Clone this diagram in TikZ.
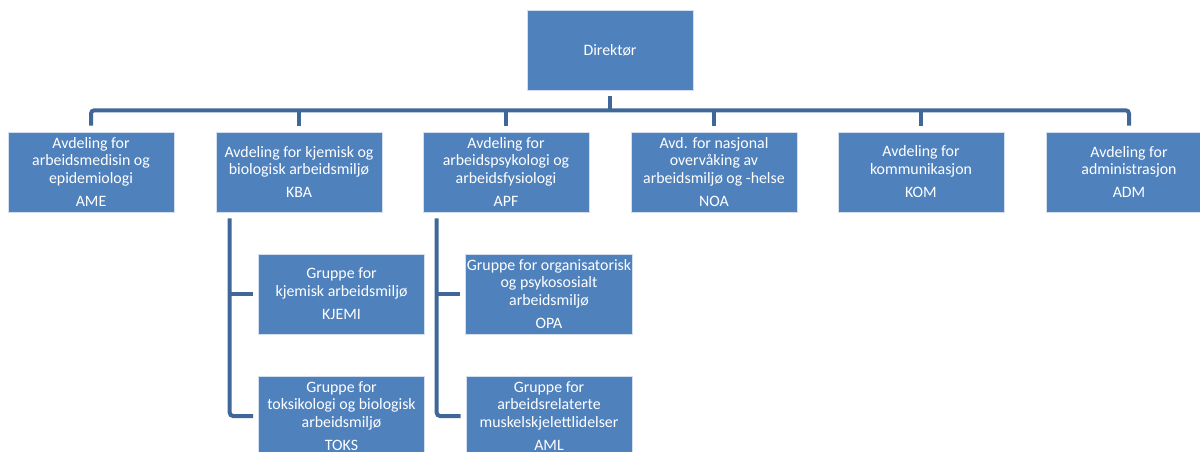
\documentclass[tikz,border=0pt]{standalone}
\usepackage{fontspec}
\setmainfont{Carlito}
\usetikzlibrary{positioning,calc}
\definecolor{boxblue}{HTML}{4F81BD}
\definecolor{lineblue}{HTML}{3F6898}
\tikzset{
  unit/.style={rectangle,fill=boxblue,draw=white!75!boxblue,line width=0.4pt,text=white,
    minimum width=124.5pt,minimum height=60pt,align=center,inner sep=1pt,
    font=\fontsize{11.9}{13.1}\selectfont},
  conn/.style={lineblue,line width=3pt,rounded corners=2.5pt},
}

\begin{document}
\begin{tikzpicture}[x=0.75pt,y=-0.75pt]
  \useasboundingbox (0,0) rectangle (1200,452);

  \node[unit] (dir) at (610,50) {Direktør};

  % avdelinger
  \foreach \x/\n/\t/\c in {
      91/ame/{Avdeling for\\arbeidsmedisin og\\epidemiologi}/AME,
      299/kba/{Avdeling for kjemisk og\\biologisk arbeidsmiljø}/KBA,
      506/apf/{Avdeling for\\arbeidspsykologi og\\arbeidsfysiologi}/APF,
      714/noa/{Avd. for nasjonal\\overvåking av\\arbeidsmiljø og -helse}/NOA,
      921/kom/{Avdeling for\\kommunikasjon}/KOM,
      1129/adm/{Avdeling for\\administrasjon}/ADM}
    \node[unit] (\n) at (\x,172) {\t\\[4.5pt]\c};

  % grupper
  \node[unit] (kjemi) at (341.5,294) {Gruppe for\\kjemisk arbeidsmiljø\\[4.5pt]KJEMI};
  \node[unit] (toks) at (341.5,416) {Gruppe for\\toksikologi og biologisk\\arbeidsmiljø\\[4.5pt]TOKS};
  \node[unit] (opa) at (549,294) {Gruppe for organisatorisk\\og psykososialt\\arbeidsmiljø\\[4.5pt]OPA};
  \node[unit] (aml) at (549,416) {Gruppe for\\arbeidsrelaterte\\muskelskjelettlidelser\\[4.5pt]AML};

  % linjer fra direktør
  \coordinate (bar) at ($(dir.south)+(0,20)$);
  \draw[conn] ($(dir.south)+(0,6)$) -- (bar);
  \draw[conn] ($(ame.north)+(0,-6)$) |- (bar) -| ($(adm.north)+(0,-6)$);
  \foreach \n in {kba,apf,noa,kom}
    \draw[conn] ($(\n.north)+(0,-6)$) -- (\n.north |- bar);

  % linjer til grupper
  \draw[conn] ($(kba.south west)+(14,6)$) |- ($(toks.west)+(-5,0)$);
  \draw[conn] ($(kjemi.west)+(-5,0)$) -- ($(kjemi.west -| kba.south west)+(14,0)$);
  \draw[conn] ($(apf.south west)+(14,6)$) |- ($(aml.west)+(-5,0)$);
  \draw[conn] ($(opa.west)+(-5,0)$) -- ($(opa.west -| apf.south west)+(14,0)$);
\end{tikzpicture}
\end{document}
